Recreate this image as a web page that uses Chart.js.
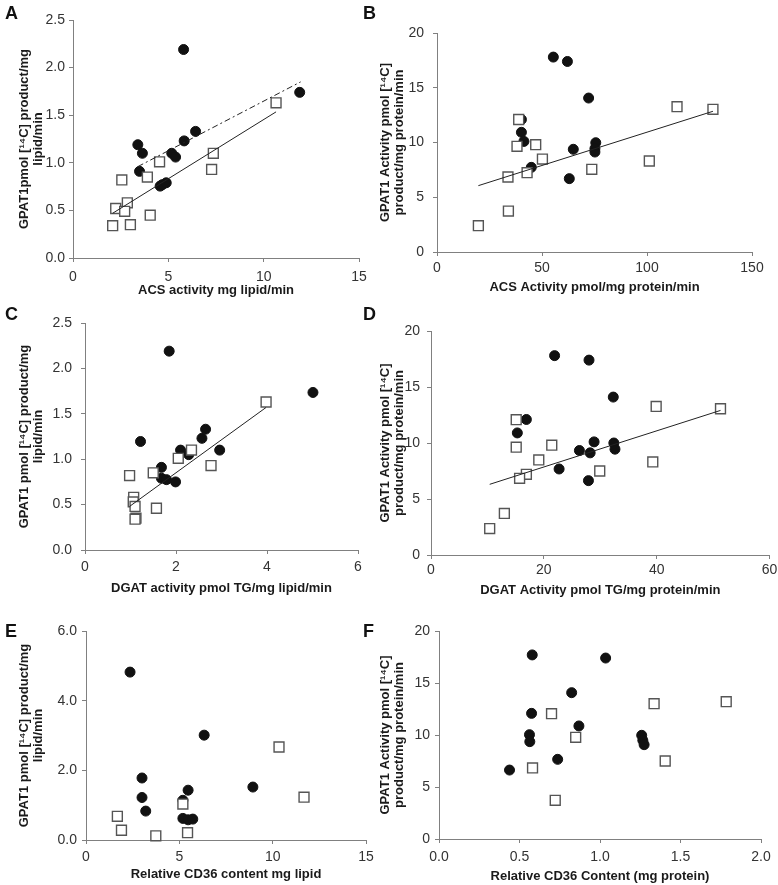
<!DOCTYPE html>
<html>
<head>
<meta charset="utf-8">
<script src="https://cdn.jsdelivr.net/npm/chart.js@4.4.1/dist/chart.umd.min.js"></script>
<style>
  body { margin: 0; background: #fff; width: 778px; height: 885px; position: relative; overflow: hidden;
         font-family: "Liberation Sans", Arial, sans-serif; }
  .panel { position: absolute; }
  .letter { position: absolute; font-weight: bold; font-size: 18px; line-height: 18px; color: #111; }
</style>
</head>
<body>
<div class="panel" style="left:0;top:0;width:378px;height:300px"><canvas id="chartA"></canvas></div>
<div class="panel" style="left:378px;top:0;width:400px;height:300px"><canvas id="chartB"></canvas></div>
<div class="panel" style="left:0;top:300px;width:378px;height:300px"><canvas id="chartC"></canvas></div>
<div class="panel" style="left:378px;top:300px;width:400px;height:300px"><canvas id="chartD"></canvas></div>
<div class="panel" style="left:0;top:600px;width:378px;height:285px"><canvas id="chartE"></canvas></div>
<div class="panel" style="left:378px;top:600px;width:400px;height:285px"><canvas id="chartF"></canvas></div>

<div class="letter" style="left:5px;top:4px">A</div>
<div class="letter" style="left:363px;top:4px">B</div>
<div class="letter" style="left:5px;top:305px">C</div>
<div class="letter" style="left:363px;top:305px">D</div>
<div class="letter" style="left:5px;top:622px">E</div>
<div class="letter" style="left:363px;top:622px">F</div>

<script>
'use strict';

// ---- Panel A: GPAT1 (per mg lipid) vs ACS activity ----
const aCircX = [5.80, 11.89, 3.40, 3.64, 6.43, 5.83, 5.18, 5.38, 3.49, 4.57, 4.68, 4.89];
const aCircY = [2.19, 1.74, 1.19, 1.10, 1.33, 1.23, 1.10, 1.06, 0.91, 0.755, 0.77, 0.79];
const aSqX = [10.65, 7.36, 7.27, 4.54, 3.90, 2.56, 2.85, 2.24, 2.71, 4.05, 2.08, 3.01];
const aSqY = [1.63, 1.10, 0.93, 1.01, 0.85, 0.82, 0.58, 0.52, 0.49, 0.45, 0.34, 0.35];
const aSqFitX = [2.08, 10.65];
const aSqFitY = [0.47, 1.535];
const aCircFitX = [3.40, 11.94];
const aCircFitY = [0.96, 1.85];

// ---- Panel B: GPAT1 (per mg protein) vs ACS activity ----
const bCircX = [55.4, 62.1, 72.2, 40.2, 40.2, 41.4, 64.9, 75.6, 75.2, 75.2, 44.9, 63.0];
const bCircY = [17.8, 17.4, 14.06, 12.1, 10.93, 10.1, 9.38, 9.98, 9.44, 9.13, 7.73, 6.70];
const bSqX = [38.9, 38.1, 47.0, 50.2, 42.9, 33.8, 73.7, 101.1, 114.3, 131.4, 34.0, 19.7];
const bSqY = [12.1, 9.65, 9.80, 8.49, 7.24, 6.85, 7.55, 8.31, 13.27, 13.03, 3.74, 2.40];
const bFitX = [19.7, 131.4];
const bFitY = [6.06, 12.85];

// ---- Panel C: GPAT1 (per mg lipid) vs DGAT activity ----
const cCircX = [1.85, 5.01, 1.22, 2.65, 2.57, 2.10, 2.28, 2.96, 1.68, 1.68, 1.79, 1.99];
const cCircY = [2.19, 1.735, 1.195, 1.33, 1.23, 1.10, 1.05, 1.10, 0.91, 0.79, 0.775, 0.75];
const cSqX = [3.98, 2.34, 2.05, 2.77, 1.50, 0.98, 1.07, 1.06, 1.10, 1.57, 1.12, 1.10];
const cSqY = [1.63, 1.10, 1.01, 0.93, 0.85, 0.82, 0.58, 0.53, 0.48, 0.46, 0.35, 0.34];
const cFitX = [0.98, 3.98];
const cFitY = [0.48, 1.57];

// ---- Panel D: GPAT1 (per mg protein) vs DGAT activity ----
const dCircX = [21.9, 28.0, 32.3, 16.9, 15.3, 28.9, 32.4, 32.6, 26.3, 28.2, 22.7, 27.9];
const dCircY = [17.8, 17.4, 14.1, 12.1, 10.9, 10.1, 10.0, 9.45, 9.33, 9.12, 7.68, 6.64];
const dSqX = [15.1, 15.1, 21.4, 19.1, 16.9, 15.7, 29.9, 39.3, 39.9, 51.3, 13.0, 10.4];
const dSqY = [12.08, 9.63, 9.81, 8.49, 7.2, 6.85, 7.5, 8.31, 13.27, 13.06, 3.71, 2.36];
const dFitX = [10.4, 51.3];
const dFitY = [6.31, 12.91];

// ---- Panel E: GPAT1 (per mg lipid) vs CD36 content ----
const eCircX = [2.36, 6.33, 3.0, 3.0, 3.2, 5.47, 8.94, 5.19, 5.19, 5.47, 5.72];
const eCircY = [4.82, 3.01, 1.78, 1.22, 0.83, 1.43, 1.52, 1.14, 0.62, 0.58, 0.60];
const eSqX = [10.34, 11.68, 5.19, 1.68, 1.90, 3.74, 5.44];
const eSqY = [2.67, 1.23, 1.03, 0.68, 0.28, 0.12, 0.21];

// ---- Panel F: GPAT1 (per mg protein) vs CD36 content ----
const fCircX = [0.579, 1.035, 0.824, 0.575, 0.869, 0.562, 0.564, 1.259, 1.266, 1.274, 0.737, 0.438];
const fCircY = [17.7, 17.4, 14.07, 12.08, 10.87, 10.03, 9.36, 9.97, 9.49, 9.07, 7.66, 6.63];
const fSqX = [0.699, 1.336, 1.784, 0.849, 1.405, 0.581, 0.722];
const fSqY = [12.05, 13.01, 13.2, 9.78, 7.5, 6.83, 3.72];

// axis titles
const yTitleLipid = ['GPAT1 pmol [\u00B9\u2074C] product/mg', 'lipid/min'];
const yTitleLipidA = ['GPAT1pmol [\u00B9\u2074C] product/mg', 'lipid/min'];
const yTitleProtein = ['GPAT1 Activity pmol [\u00B9\u2074C]', 'product/mg protein/min'];

Chart.defaults.font.family = '"Liberation Sans", Arial, sans-serif';
Chart.defaults.devicePixelRatio = 1;

const AXIS_GREY = '#808080';

function toPoints(xs, ys) {
  return xs.map((x, i) => ({ x: x, y: ys[i] }));
}

function oneDecimal(v) { return Number(v).toFixed(1); }
function plain(v) { return String(v); }

/**
 * Build one scatter panel. Box sizes keep the plot area where the reference has it.
 */
function makePanel(id, p) {
  const datasets = [];
  (p.fits || []).forEach(f => {
    datasets.push({
      data: toPoints(f.x, f.y), showLine: true, borderColor: '#222', borderWidth: 1,
      borderDash: f.dash || [], pointRadius: 0, clip: false
    });
  });
  datasets.push({
    data: toPoints(p.sqX, p.sqY), pointStyle: 'rect', pointRadius: 7,
    backgroundColor: '#fff', borderColor: '#555', borderWidth: 1.4, clip: false
  });
  datasets.push({
    data: toPoints(p.circX, p.circY), pointStyle: 'circle', pointRadius: 5,
    backgroundColor: '#111', borderColor: '#111', borderWidth: 1, clip: false
  });

  new Chart(document.getElementById(id), {
    type: 'scatter',
    data: { datasets: datasets },
    options: {
      responsive: true,
      maintainAspectRatio: false,
      animation: false,
      events: [],
      layout: { padding: { left: 0, bottom: 0, top: p.padTop, right: p.padRight } },
      plugins: { legend: { display: false }, tooltip: { enabled: false } },
      scales: {
        x: {
          type: 'linear', min: p.xMin, max: p.xMax,
          border: { color: AXIS_GREY, width: 1 },
          grid: { drawOnChartArea: false, drawTicks: true, tickLength: 4, color: AXIS_GREY },
          ticks: { stepSize: p.xStep, color: '#333', font: { size: 14 }, padding: p.xTickPad, maxRotation: 0, callback: p.xFmt },
          title: { display: true, text: p.xTitle, color: '#1a1a1a',
                   font: { size: 13, weight: 'bold', lineHeight: 1.1 }, padding: { top: 0, bottom: p.xTitlePad } },
          afterFit: s => { s.height = p.xHeight; s.paddingLeft = 0; s.paddingRight = 0; }
        },
        y: {
          type: 'linear', min: p.yMin, max: p.yMax,
          border: { color: AXIS_GREY, width: 1 },
          grid: { drawOnChartArea: false, drawTicks: true, tickLength: 4, color: AXIS_GREY },
          ticks: { stepSize: p.yStep, color: '#333', font: { size: 14 }, padding: p.yTickPad, callback: p.yFmt },
          title: { display: true, text: p.yTitle, color: '#1a1a1a',
                   font: { size: 13, weight: 'bold', lineHeight: 1.1 }, padding: { top: p.yTitlePad, bottom: 0 } },
          afterFit: s => { s.width = p.yWidth; s.paddingTop = 0; s.paddingBottom = 0; }
        }
      }
    }
  });
}

makePanel('chartA', {
  circX: aCircX, circY: aCircY, sqX: aSqX, sqY: aSqY,
  fits: [{ x: aSqFitX, y: aSqFitY }, { x: aCircFitX, y: aCircFitY, dash: [6, 3, 2, 3] }],
  xMin: 0, xMax: 15, xStep: 5, xFmt: plain, yMin: 0, yMax: 2.5, yStep: 0.5, yFmt: oneDecimal,
  xTitle: 'ACS activity mg lipid/min', yTitle: yTitleLipidA,
  padTop: 20, padRight: 19, yWidth: 73, xHeight: 42, yTitlePad: 17, xTitlePad: 2.5,
  xTickPad: 6.5, yTickPad: 4
});

makePanel('chartB', {
  circX: bCircX, circY: bCircY, sqX: bSqX, sqY: bSqY,
  fits: [{ x: bFitX, y: bFitY }],
  xMin: 0, xMax: 150, xStep: 50, xFmt: plain, yMin: 0, yMax: 20, yStep: 5, yFmt: plain,
  xTitle: 'ACS Activity pmol/mg protein/min', yTitle: yTitleProtein,
  padTop: 33, padRight: 26, yWidth: 59, xHeight: 48, yTitlePad: 0, xTitlePad: 5.5,
  xTickPad: 3.5, yTickPad: 9
});

makePanel('chartC', {
  circX: cCircX, circY: cCircY, sqX: cSqX, sqY: cSqY,
  fits: [{ x: cFitX, y: cFitY }],
  xMin: 0, xMax: 6, xStep: 2, xFmt: plain, yMin: 0, yMax: 2.5, yStep: 0.5, yFmt: oneDecimal,
  xTitle: 'DGAT activity pmol TG/mg lipid/min', yTitle: yTitleLipid,
  padTop: 23, padRight: 20, yWidth: 85, xHeight: 50, yTitlePad: 17, xTitlePad: 4.5,
  xTickPad: 4.5, yTickPad: 9
});

makePanel('chartD', {
  circX: dCircX, circY: dCircY, sqX: dSqX, sqY: dSqY,
  fits: [{ x: dFitX, y: dFitY }],
  xMin: 0, xMax: 60, xStep: 20, xFmt: plain, yMin: 0, yMax: 20, yStep: 5, yFmt: plain,
  xTitle: 'DGAT Activity pmol TG/mg protein/min', yTitle: yTitleProtein,
  padTop: 31, padRight: 7, yWidth: 53, xHeight: 45, yTitlePad: 0, xTitlePad: 2.5,
  xTickPad: 3, yTickPad: 7
});

makePanel('chartE', {
  circX: eCircX, circY: eCircY, sqX: eSqX, sqY: eSqY,
  xMin: 0, xMax: 15, xStep: 5, xFmt: plain, yMin: 0, yMax: 6, yStep: 2, yFmt: oneDecimal,
  xTitle: 'Relative CD36 content mg lipid', yTitle: yTitleLipid,
  padTop: 31, padRight: 12, yWidth: 86, xHeight: 45, yTitlePad: 17, xTitlePad: 3.5,
  xTickPad: 4.5, yTickPad: 5
});

makePanel('chartF', {
  circX: fCircX, circY: fCircY, sqX: fSqX, sqY: fSqY,
  xMin: 0, xMax: 2, xStep: 0.5, xFmt: oneDecimal, yMin: 0, yMax: 20, yStep: 5, yFmt: plain,
  xTitle: 'Relative CD36 Content (mg protein)', yTitle: yTitleProtein,
  padTop: 31, padRight: 17, yWidth: 61, xHeight: 46, yTitlePad: 0, xTitlePad: 1.5,
  xTickPad: 5.5, yTickPad: 5
});
</script>
</body>
</html>
